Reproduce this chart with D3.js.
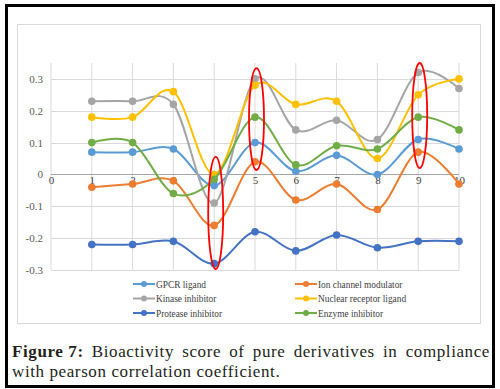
<!DOCTYPE html>
<html>
<head>
<meta charset="utf-8">
<script src="https://cdn.jsdelivr.net/npm/d3@7"></script>
<style>
  body { margin: 0; background: #fff; }
  svg { display: block; }
</style>
</head>
<body>
<div id="chart-area"></div>
<script>
// Data
var xValues = [1, 2, 3, 4, 5, 6, 7, 8, 9, 10];
var seriesNames = ["GPCR ligand", "Ion channel modulator", "Kinase inhibitor",
    "Nuclear receptor ligand", "Protease inhibitor", "Enzyme inhibitor"];
var seriesColors = ["#5B9BD5", "#ED7D31", "#A5A5A5", "#FFC000", "#4472C4", "#70AD47"];

var gpcr     = [0.07, 0.07, 0.08, -0.035, 0.10, 0.01, 0.06, 0.00, 0.11, 0.08];
var ion      = [-0.04, -0.03, -0.02, -0.16, 0.04, -0.08, -0.03, -0.11, 0.07, -0.03];
var kinase   = [0.23, 0.23, 0.22, -0.09, 0.30, 0.14, 0.17, 0.11, 0.32, 0.27];
var nuclear  = [0.18, 0.18, 0.26, 0.00, 0.28, 0.22, 0.23, 0.05, 0.25, 0.30];
var protease = [-0.22, -0.22, -0.21, -0.28, -0.18, -0.24, -0.19, -0.23, -0.21, -0.21];
var enzyme   = [0.10, 0.10, -0.06, -0.015, 0.18, 0.03, 0.09, 0.08, 0.18, 0.14];

var seriesValues = [gpcr, ion, kinase, nuclear, protease, enzyme];

var xTicks = [0, 1, 2, 3, 4, 5, 6, 7, 8, 9, 10];
var yTicks = [-0.3, -0.2, -0.1, 0, 0.1, 0.2, 0.3];

// red ellipses highlighting x = 4, 5, 9 (value range covered)
var highlights = [
    { x: 4, top: 0.055, bottom: -0.297 },
    { x: 5, top: 0.334, bottom: 0.014 },
    { x: 9, top: 0.35, bottom: 0.02 }
];

var W = 500, H = 389;
var serif = "Liberation Serif, serif";

var svg = d3.select("#chart-area")
    .append("svg")
        .attr("width", W)
        .attr("height", H);

svg.append("rect")
    .attr("width", W).attr("height", H)
    .attr("fill", "#fff");

// outer black frame
svg.append("rect")
    .attr("x", 6.5).attr("y", 5.5)
    .attr("width", 487).attr("height", 381)
    .attr("fill", "none")
    .attr("stroke", "#000")
    .attr("stroke-width", 3);

// chart area border
svg.append("rect")
    .attr("x", 17.5).attr("y", 24.5)
    .attr("width", 463).attr("height", 299)
    .attr("fill", "none")
    .attr("stroke", "#D9D9D9")
    .attr("stroke-width", 1);

// Scales
var x = d3.scaleLinear().domain([0, 10]).range([51, 459]);
var y = d3.scaleLinear().domain([-0.3, 0.35]).range([270, 63]);

var g = svg.append("g");

// vertical gridlines
g.selectAll(".vgrid")
    .data(xTicks)
    .enter().append("line")
        .attr("x1", function(d){ return x(d); })
        .attr("x2", function(d){ return x(d); })
        .attr("y1", y(0.35))
        .attr("y2", y(-0.3))
        .attr("stroke", "#D9D9D9")
        .attr("stroke-width", 1);

// horizontal gridlines
g.selectAll(".hgrid")
    .data(yTicks)
    .enter().append("line")
        .attr("x1", x(0))
        .attr("x2", x(10))
        .attr("y1", function(d){ return Math.round(y(d)) + 0.5; })
        .attr("y2", function(d){ return Math.round(y(d)) + 0.5; })
        .attr("stroke", function(d){ return d === 0 ? "#A6A6A6" : "#D9D9D9"; })
        .attr("stroke-width", 1);

// Y axis labels
var yAxisCall = d3.axisLeft(y)
    .tickValues(yTicks)
    .tickSize(0)
    .tickPadding(8)
    .tickFormat(function(d){ return d === 0 ? "0" : d3.format(".1f")(d).replace("−", "-"); });
var yAxisGroup = g.append("g")
    .attr("transform", "translate(" + x(0) + ",0)")
    .call(yAxisCall)
    .attr("font-family", serif)
    .attr("font-size", 11);
yAxisGroup.select(".domain").remove();
yAxisGroup.selectAll("text").attr("fill", "#595959");

// X axis labels along the zero line
var xAxisCall = d3.axisBottom(x)
    .tickValues(xTicks)
    .tickSize(0)
    .tickPadding(2)
    .tickFormat(d3.format("d"));
var xAxisGroup = g.append("g")
    .attr("transform", "translate(0," + y(0) + ")")
    .call(xAxisCall)
    .attr("font-family", serif)
    .attr("font-size", 11);
xAxisGroup.select(".domain").remove();
xAxisGroup.selectAll("text").attr("fill", "#404040");

// Lines
var line = d3.line()
    .x(function(d, i){ return x(xValues[i]); })
    .y(function(d){ return y(d); })
    .curve(d3.curveCardinal.tension(0));

seriesValues.forEach(function(vals, s) {
    var sg = g.append("g");
    sg.append("path")
        .attr("d", line(vals))
        .attr("fill", "none")
        .attr("stroke", seriesColors[s])
        .attr("stroke-width", 2);
    sg.selectAll("circle")
        .data(vals)
        .enter().append("circle")
            .attr("cx", function(d, i){ return x(xValues[i]); })
            .attr("cy", function(d){ return y(d); })
            .attr("r", 3.8)
            .attr("fill", seriesColors[s]);
});

// highlight ellipses
g.selectAll(".hl")
    .data(highlights)
    .enter().append("ellipse")
        .attr("cx", function(d){ return x(d.x) + 1.5; })
        .attr("cy", function(d){ return (y(d.top) + y(d.bottom)) / 2; })
        .attr("rx", 7.5)
        .attr("ry", function(d){ return (y(d.bottom) - y(d.top)) / 2; })
        .attr("fill", "none")
        .attr("stroke", "#FF0000")
        .attr("stroke-width", 1.8);

// Legend
var legend = svg.append("g");
seriesNames.forEach(function(name, i) {
    var col = i % 2, row = Math.floor(i / 2);
    var lx = col === 0 ? 133 : 295;
    var ly = 284 + row * 14.5;
    var item = legend.append("g").attr("transform", "translate(" + lx + "," + ly + ")");
    item.append("line")
        .attr("x1", 0).attr("x2", 22)
        .attr("stroke", seriesColors[i])
        .attr("stroke-width", 2);
    item.append("circle")
        .attr("cx", 11).attr("r", 3)
        .attr("fill", seriesColors[i]);
    item.append("text")
        .attr("transform", "translate(23,3.5) scale(0.85,1)")
        .attr("font-family", serif)
        .attr("font-size", "11px")
        .attr("fill", "#404040")
        .text(name);
});

// Caption
var captionLine1 = ["Figure 7:", "Bioactivity", "score", "of", "pure", "derivatives", "in", "compliance"];
var captionLine2 = "with pearson correlation coefficient.";
var cap = svg.append("g")
    .attr("font-family", serif)
    .attr("font-size", "17px")
    .attr("letter-spacing", "0.6px")
    .attr("fill", "#231f20");

var words = captionLine1.map(function(w, i) {
    return cap.append("text")
        .attr("y", 357)
        .attr("font-weight", i === 0 ? "bold" : "normal")
        .text(w);
});
var widths = words.map(function(t){ return t.node().getComputedTextLength(); });
var left = 12, right = 490;
var gap = (right - left - d3.sum(widths)) / (words.length - 1);
var cx = left;
words.forEach(function(t, i) {
    t.attr("x", cx);
    cx += widths[i] + gap;
});

cap.append("text")
    .attr("x", 12)
    .attr("y", 377)
    .text(captionLine2);
</script>
</body>
</html>
